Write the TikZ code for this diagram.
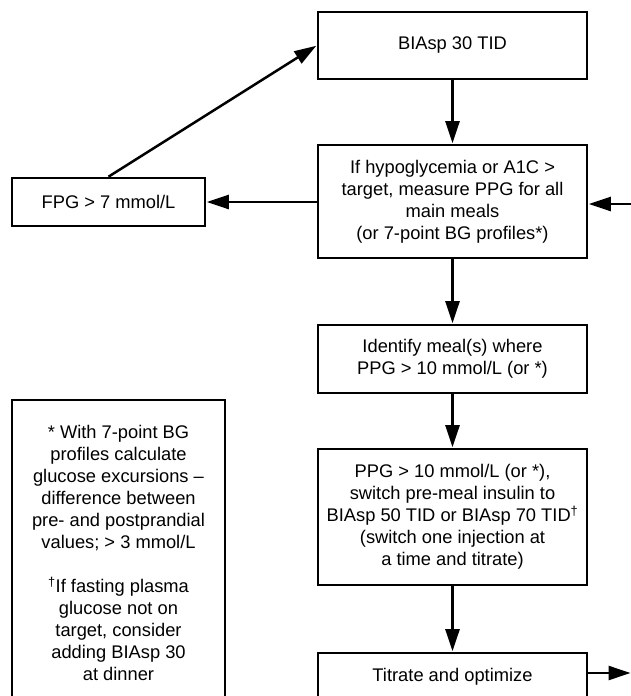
\documentclass[tikz,border=0pt]{standalone}
\usepackage{fontspec}
\setmainfont{Liberation Sans}
\usetikzlibrary{arrows.meta}
\newcommand\dg{\textsuperscript{†}}
\begin{document}
\begin{tikzpicture}[x=1pt,y=-1pt,
  box/.style={draw=black, line width=2.6pt, fill=white, inner sep=0pt, align=center,
    font=\fontsize{18.3}{22}\selectfont},
  arrow/.style={draw=black, line width=2.5pt, -{Triangle[length=22pt,width=14pt]}, shorten >=0.5pt}
]
\useasboundingbox (0,0) rectangle (631,696);
\fill[white] (0,0) rectangle (631,696);
\clip (0,0) rectangle (631,696);

\node[box, minimum width=269, minimum height=67] (b1) at (452.5,45.5) {BIAsp 30 TID};
\node[box, minimum width=269, minimum height=113] (b2) at (452.5,201.5)
  {If hypoglycemia or A1C >\\target, measure PPG for all\\main meals\\(or 7-point BG profiles*)};
\node[box, minimum width=193, minimum height=48] (fpg) at (108.5,202) {FPG > 7 mmol/L};
\node[box, minimum width=269, minimum height=68] (b3) at (452.5,359)
  {Identify meal(s) where\\PPG > 10 mmol/L (or *)};
\node[box, minimum width=269, minimum height=136] (b4) at (452.5,517)
  {PPG > 10 mmol/L (or *),\\switch pre-meal insulin to\\BIAsp 50 TID or BIAsp 70 TID\dg\\(switch one injection at\\a time and titrate)};
\node[box, minimum width=269, minimum height=48] (b5) at (452.5,677) {Titrate and optimize};
\node[box, minimum width=213, minimum height=306] (note) at (118.5,553)
  {* With 7-point BG\\profiles calculate\\glucose excursions –\\difference between\\pre- and postprandial\\values; > 3 mmol/L\\[22pt]\dg If fasting plasma\\glucose not on\\target, consider\\adding BIAsp 30\\at dinner};

\coordinate (in2) at (640,204);
\coordinate (out5) at (631,673);

\draw[arrow] (b1) -- (b2);
\draw[arrow] (b2) -- (b3);
\draw[arrow] (b3) -- (b4);
\draw[arrow] (b4) -- (b5);
\draw[arrow] (b2.west |- fpg.east) -- (fpg.east);
\draw[arrow] (fpg.north) -- (b1.west);
\draw[arrow] (in2) -- (in2 -| b2.east);
\draw[arrow] (b5.east |- out5) -- (out5);
\end{tikzpicture}
\end{document}
